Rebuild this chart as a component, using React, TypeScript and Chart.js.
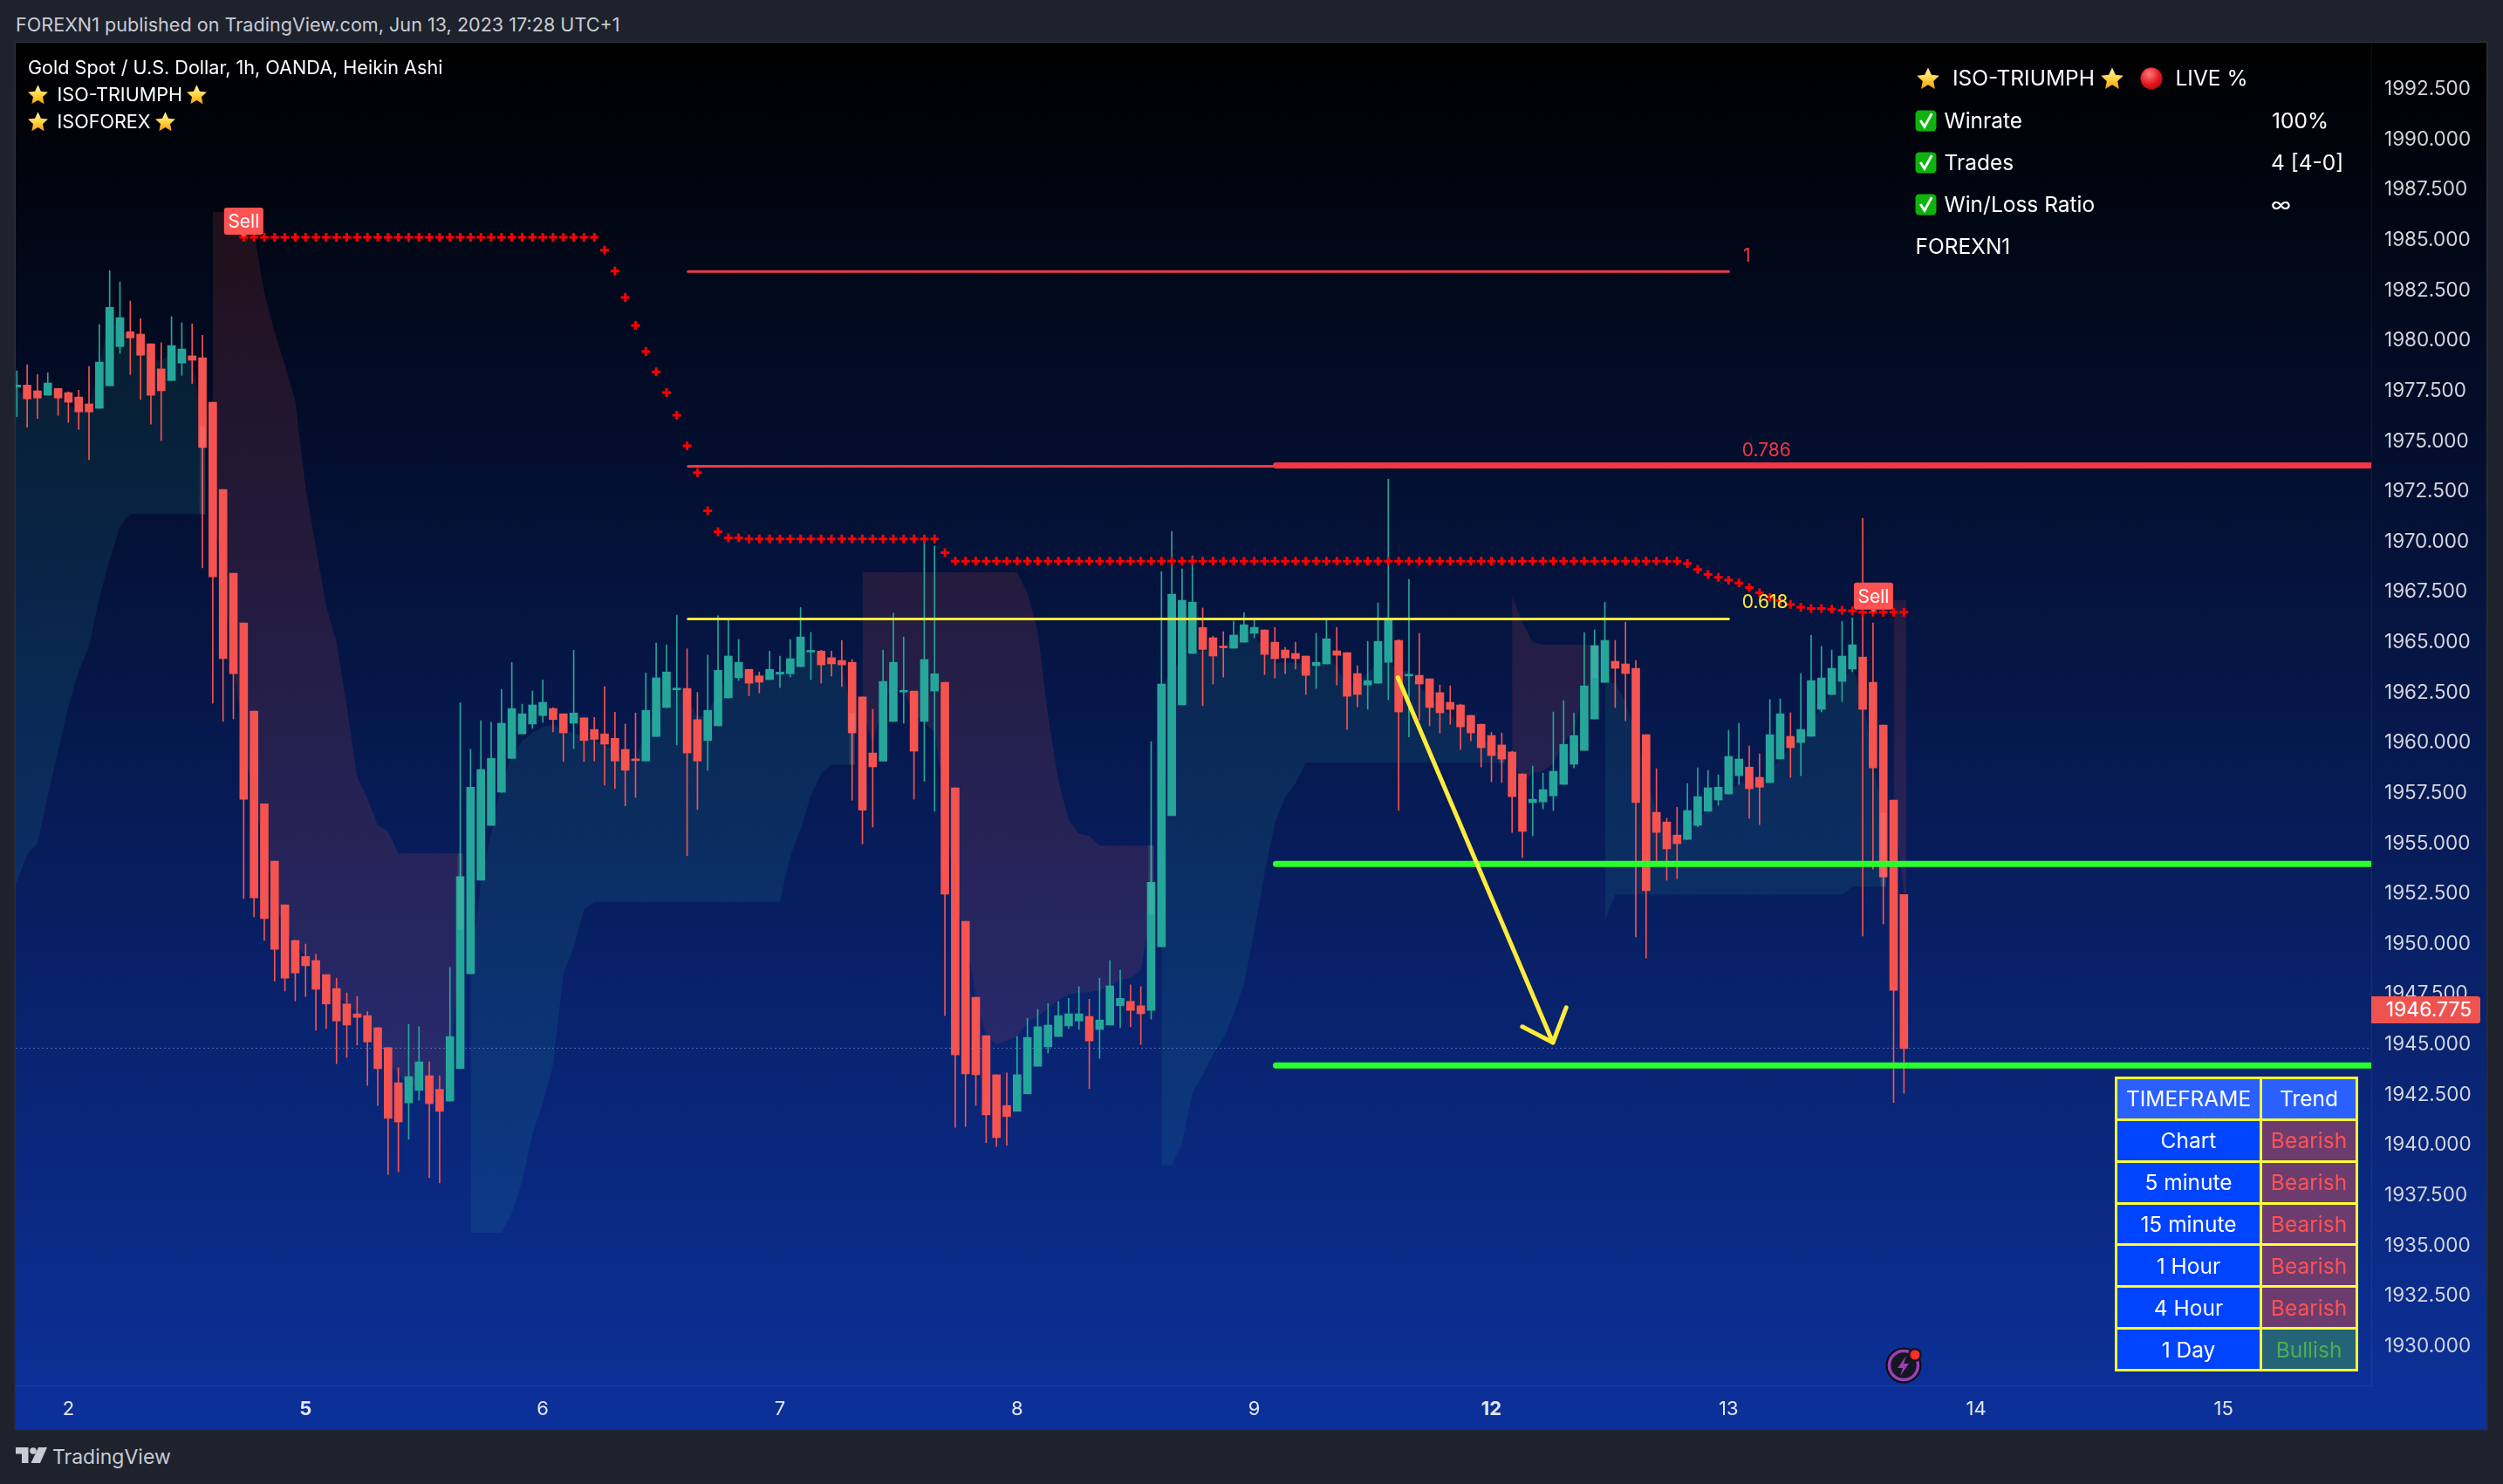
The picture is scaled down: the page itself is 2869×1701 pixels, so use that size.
import React, { useEffect, useRef } from "react";
import { Chart, registerables } from "chart.js";

Chart.register(...registerables);

// ---------- Price series (Heikin Ashi, one value per hourly bar) ----------
const highs = [
  1978.50,1978.81,1978.32,1978.41,1977.63,1977.46,1977.54,1978.72,1980.80,1983.49,
  1982.92,1981.97,1981.10,1979.85,1979.90,1981.20,1980.89,1980.84,1980.27,1976.94,
  1972.60,1968.44,1965.96,1961.58,1956.97,1954.12,1951.95,1950.18,1950.00,1949.50,
  1948.48,1948.30,1947.57,1947.39,1946.64,1945.84,1944.85,1943.85,1946.00,1945.89,
  1944.14,1943.45,1948.83,1962.00,1959.68,1961.11,1961.03,1962.66,1964.00,1961.93,
  1962.58,1963.13,1961.76,1961.45,1964.61,1961.25,1961.27,1962.80,1961.53,1960.94,
  1961.49,1963.48,1964.97,1964.88,1966.36,1964.68,1962.51,1964.37,1966.32,1966.12,
  1965.14,1963.66,1963.53,1964.57,1964.32,1965.14,1966.74,1965.50,1964.61,1964.57,
  1965.10,1964.15,1962.29,1961.67,1964.61,1966.45,1965.27,1962.58,1970.20,1969.79,
  1963.02,1957.77,1951.13,1947.35,1945.44,1943.50,1943.59,1945.40,1946.31,1946.75,
  1947.04,1947.15,1947.30,1947.88,1947.26,1948.30,1949.18,1948.70,1947.97,1947.88,
  1960.07,1968.53,1970.52,1968.66,1969.30,1966.71,1965.31,1965.53,1966.05,1966.49,
  1966.10,1965.62,1965.75,1964.75,1965.01,1964.32,1965.45,1966.10,1965.75,1964.49,
  1963.84,1965.05,1966.96,1973.12,1965.14,1968.13,1965.45,1963.19,1962.88,1962.84,
  1961.93,1961.37,1960.93,1960.53,1960.50,1959.59,1958.46,1958.85,1958.50,1961.54,
  1962.10,1961.50,1965.49,1965.62,1967.00,1965.10,1966.00,1964.10,1960.41,1958.72,
  1956.25,1956.81,1957.98,1958.76,1958.63,1958.41,1960.63,1960.98,1959.85,1959.46,
  1962.15,1962.19,1961.50,1963.45,1965.36,1964.80,1964.62,1966.05,1966.22,1971.17,
  1965.97,1960.89,1957.16,1952.46,
];
const lows = [
  1976.22,1975.70,1976.13,1977.29,1976.29,1975.94,1975.59,1974.09,1976.64,1977.76,
  1979.37,1978.33,1977.08,1975.85,1975.03,1978.02,1978.28,1977.88,1968.71,1961.98,
  1961.07,1961.20,1952.26,1951.35,1950.18,1948.15,1947.66,1947.17,1947.39,1945.71,
  1945.80,1944.05,1944.36,1944.98,1942.97,1941.97,1938.54,1938.67,1940.29,1942.23,
  1938.38,1938.12,1942.19,1943.80,1948.52,1953.17,1955.90,1957.55,1959.23,1960.45,
  1960.72,1961.03,1960.55,1959.08,1959.72,1959.08,1959.10,1957.90,1957.73,1956.87,
  1957.29,1959.10,1960.32,1961.76,1959.90,1954.39,1956.69,1958.64,1960.85,1962.24,
  1963.10,1962.35,1962.49,1963.15,1962.75,1963.28,1963.79,1963.15,1962.97,1963.33,
  1962.80,1957.15,1954.98,1955.82,1959.10,1961.07,1960.98,1957.20,1958.10,1956.60,
  1946.44,1940.88,1940.93,1941.97,1940.12,1939.93,1939.98,1941.68,1942.55,1943.92,
  1944.58,1945.40,1945.80,1945.75,1942.81,1944.32,1945.97,1945.84,1945.89,1945.00,
  1946.26,1949.87,1956.38,1961.89,1964.45,1961.85,1962.93,1963.27,1964.71,1965.01,
  1965.23,1963.40,1963.23,1963.45,1963.67,1962.41,1962.71,1963.93,1962.88,1960.67,
  1961.80,1961.67,1962.97,1962.15,1956.64,1960.30,1961.14,1960.85,1960.50,1960.93,
  1959.67,1960.10,1958.80,1958.07,1958.03,1955.55,1954.30,1955.38,1956.72,1956.64,
  1957.94,1958.76,1959.63,1961.19,1963.01,1961.76,1961.10,1950.35,1949.30,1954.00,
  1953.17,1953.25,1955.20,1955.83,1956.60,1956.90,1957.46,1957.94,1956.25,1955.94,
  1958.03,1959.20,1958.29,1958.37,1960.33,1961.54,1962.41,1962.06,1963.54,1950.40,
  1953.73,1951.00,1942.12,1942.58,
];
const opens = [
  1977.70,1977.80,1977.51,1977.29,1977.63,1977.42,1977.20,1976.86,1976.64,1977.76,
  1979.71,1980.45,1980.33,1979.85,1978.60,1978.02,1978.89,1979.25,1979.15,1976.94,
  1972.60,1968.44,1965.96,1961.58,1956.97,1954.12,1951.95,1950.18,1949.38,1949.18,
  1948.48,1947.79,1947.02,1946.53,1946.44,1945.84,1944.85,1943.10,1942.10,1942.72,
  1943.45,1942.77,1942.19,1943.80,1948.52,1953.17,1955.90,1957.55,1959.23,1960.45,
  1960.94,1961.36,1961.71,1961.45,1960.98,1961.25,1960.67,1960.45,1960.23,1959.68,
  1959.20,1959.10,1960.32,1961.76,1962.64,1962.71,1961.16,1960.12,1960.85,1962.24,
  1963.24,1963.66,1963.33,1963.15,1963.42,1963.44,1963.79,1964.52,1964.57,1964.24,
  1964.10,1964.01,1962.29,1959.50,1959.10,1961.07,1962.53,1962.58,1961.07,1962.58,
  1963.02,1957.77,1951.13,1947.35,1945.44,1943.50,1941.97,1941.68,1942.55,1943.92,
  1944.89,1945.40,1945.93,1946.17,1946.40,1945.75,1945.97,1946.93,1947.15,1946.93,
  1946.70,1949.87,1956.38,1961.89,1964.45,1965.74,1965.23,1964.77,1964.71,1965.01,
  1965.45,1965.62,1965.01,1964.62,1964.45,1964.32,1963.84,1963.93,1964.58,1964.49,
  1963.45,1962.88,1962.97,1964.01,1965.10,1963.33,1963.36,1963.19,1962.50,1962.02,
  1961.89,1961.37,1960.93,1960.37,1959.90,1959.55,1958.46,1957.03,1957.07,1957.37,
  1957.94,1958.94,1959.63,1961.19,1963.01,1964.06,1963.93,1963.71,1960.41,1956.55,
  1956.07,1955.42,1955.20,1955.90,1956.60,1957.16,1957.46,1958.37,1958.80,1958.29,
  1958.03,1959.20,1960.33,1960.02,1960.33,1961.67,1962.41,1963.06,1963.67,1964.27,
  1963.02,1960.89,1957.16,1952.46,
];
const closes = [
  1977.80,1977.11,1977.15,1977.90,1977.15,1976.94,1976.46,1976.46,1978.94,1981.66,
  1981.15,1980.14,1979.28,1977.29,1977.51,1979.76,1979.59,1979.03,1974.69,1968.26,
  1964.19,1963.44,1957.20,1952.30,1951.26,1949.74,1948.30,1948.56,1948.92,1947.75,
  1947.02,1946.17,1945.97,1946.35,1945.13,1943.80,1941.33,1941.15,1943.41,1944.14,
  1942.06,1941.68,1945.40,1953.35,1957.80,1958.68,1959.23,1960.98,1961.71,1961.45,
  1961.89,1962.02,1961.16,1960.50,1961.49,1960.12,1960.18,1959.94,1959.10,1958.64,
  1959.12,1961.62,1963.24,1963.53,1962.72,1959.50,1959.10,1961.62,1963.61,1964.32,
  1964.01,1962.97,1963.02,1963.66,1963.52,1964.19,1965.27,1964.58,1963.88,1963.93,
  1963.88,1960.50,1956.65,1958.81,1963.06,1964.01,1962.57,1959.59,1964.15,1963.44,
  1952.48,1944.49,1943.54,1943.50,1941.50,1940.37,1941.42,1943.50,1945.35,1945.89,
  1945.97,1946.44,1946.53,1946.53,1945.18,1946.22,1947.92,1947.30,1946.70,1946.53,
  1953.07,1962.93,1967.40,1967.09,1967.00,1964.65,1964.32,1964.73,1965.36,1965.88,
  1965.75,1964.40,1964.19,1964.23,1964.19,1963.36,1964.01,1965.18,1964.36,1962.32,
  1962.41,1963.10,1965.05,1966.10,1961.54,1963.38,1962.93,1961.76,1961.50,1961.67,
  1960.80,1960.50,1959.76,1959.37,1959.20,1957.33,1955.60,1957.20,1957.68,1958.59,
  1959.93,1960.37,1962.84,1964.84,1965.10,1963.71,1963.45,1957.03,1952.65,1955.55,
  1954.73,1954.99,1956.64,1957.33,1957.77,1957.80,1959.33,1959.20,1957.72,1957.80,
  1960.41,1961.45,1959.76,1960.67,1963.10,1963.23,1963.71,1964.32,1964.88,1961.67,
  1958.76,1953.34,1947.70,1944.80,
];

// Trailing stop, red crosses, starting at bar 22
const stopStart = 22;
const stopValues = [
  1985.15,1985.15,1985.15,1985.15,1985.15,1985.15,1985.15,1985.15,1985.15,1985.15,
  1985.15,1985.15,1985.15,1985.15,1985.15,1985.15,1985.15,1985.15,1985.15,1985.15,
  1985.15,1985.15,1985.15,1985.15,1985.15,1985.15,1985.15,1985.15,1985.15,1985.15,
  1985.15,1985.15,1985.15,1985.15,1985.15,
  1984.51,1983.46,1982.15,1980.76,1979.46,1978.45,1977.42,1976.29,1974.78,1973.44,
  1971.54,1970.50,1970.20,1970.20,
  1970.15,1970.15,1970.15,1970.15,1970.15,1970.15,1970.15,1970.15,1970.15,1970.15,
  1970.15,1970.15,1970.15,1970.15,1970.15,1970.15,1970.15,1970.15,1970.15,
  1969.46,
  1969.04,1969.04,1969.04,1969.04,1969.04,1969.04,1969.04,1969.04,1969.04,1969.04,
  1969.04,1969.04,1969.04,1969.04,1969.04,1969.04,1969.04,1969.04,1969.04,1969.04,
  1969.04,1969.04,1969.04,1969.04,1969.04,1969.04,1969.04,1969.04,1969.04,1969.04,
  1969.04,1969.04,1969.04,1969.04,1969.04,1969.04,1969.04,1969.04,1969.04,1969.04,
  1969.04,1969.04,1969.04,1969.04,1969.04,1969.04,1969.04,1969.04,1969.04,1969.04,
  1969.04,1969.04,1969.04,1969.04,1969.04,1969.04,1969.04,1969.04,1969.04,1969.04,
  1969.04,1969.04,1969.04,1969.04,1969.04,1969.04,1969.04,1969.04,1969.04,1969.04,
  1969.04,
  1968.92,1968.63,1968.38,1968.24,1968.09,1967.95,1967.73,1967.47,1967.24,1967.08,
  1966.89,1966.75,1966.69,1966.69,1966.65,1966.60,1966.57,1966.50,1966.50,1966.50,
  1966.50,1966.50,
];

// Cloud regions: first bar, upper and lower edges
const greenAStart = 0;
const greenAUpper = [1977.6,1977.2,1977.1,1977.3,1977.2,1976.8,1976.5,1976.6,1978.9,1981.0,1980.5,1980.3,1979.8,1979.1,1979.0,1979.4,1979.4,1979.2,1975.7];
const greenALower = [1953.06,1954.45,1955.0,1957.37,1959.59,1961.8,1963.57,1964.79,1967.22,1969.1,1970.76,1971.38,1971.38,1971.38,1971.38,1971.38,1971.38,1971.38,1971.38];

const redBStart = 19;
const redBUpper = [1986.4,1986.4,1986.4,1986.4,1985.3,1982.4,1980.4,1978.8,1977.0,1972.7,1969.7,1966.8,1965.0,1961.8,1958.3,1957.26,1955.9,1955.6,1954.5,1954.5,1954.5,1954.5,1954.5,1954.5,1954.5];
const redBLower = [1972.0,1968.0,1964.0,1960.0,1957.0,1955.0,1952.0,1950.8,1950.0,1949.4,1948.8,1948.2,1947.5,1947.0,1946.6,1946.0,1945.2,1944.2,1943.5,1943.0,1942.8,1942.6,1942.5,1943.0,1950.73];

const greenCStart = 44;
const greenCUpper = [1949.0,1953.0,1955.5,1958.0,1959.3,1960.1,1960.5,1960.8,1960.9,1960.6,1960.5,1960.3,1960.2,1959.9,1959.6,1959.2,1959.2,1960.6,1961.9,1962.7,1962.8,1962.2,1961.3,1961.4,1962.6,1963.2,1963.5,1963.5,1963.4,1963.4,1963.5,1963.8,1964.7,1964.6,1964.3,1964.1,1963.9,1961.5];
const greenCLower = [1935.64,1935.64,1935.64,1935.64,1936.6,1938.2,1940.55,1942.1,1943.98,1948.52,1949.85,1951.73,1952.1,1952.1,1952.1,1952.1,1952.1,1952.1,1952.1,1952.1,1952.1,1952.1,1952.1,1952.1,1952.1,1952.1,1952.1,1952.1,1952.1,1952.1,1952.1,1954.39,1955.7,1957.37,1958.48,1958.92,1958.92,1958.92];

const redDStart = 82;
const redDUpper = [1968.49,1968.49,1968.49,1968.49,1968.49,1968.49,1968.49,1968.49,1968.49,1968.49,1968.49,1968.49,1968.49,1968.49,1968.49,1968.49,1967.45,1965.56,1961.36,1958.15,1956.16,1955.49,1955.38,1954.9,1954.9,1954.9,1954.9,1954.9,1954.9];
const redDLower = [1961.58,1960.03,1961.9,1962.9,1962.5,1961.5,1961.0,1960.58,1957.0,1951.95,1950.5,1947.4,1945.4,1945.0,1945.2,1945.4,1946.1,1946.4,1946.8,1947.2,1947.5,1947.6,1947.6,1947.7,1947.9,1948.2,1948.3,1948.7,1951.6];

const greenEStart = 111;
const greenEUpper = [1962.9,1963.5,1964.2,1964.5,1964.6,1964.6,1964.8,1965.3,1965.9,1965.3,1964.7,1964.0,1964.0,1964.0,1963.9,1963.7,1964.2,1963.8,1962.7,1963.0,1963.5,1964.0,1964.1,1963.5,1963.6,1962.8,1962.2,1961.8,1961.4,1960.9,1960.6,1960.2,1959.9,1959.2];
const greenELower = [1939.0,1939.0,1940.1,1942.6,1943.5,1944.5,1945.3,1946.5,1948.0,1950.6,1953.5,1956.0,1957.3,1958.0,1959.02,1959.02,1959.02,1959.02,1959.02,1959.02,1959.02,1959.02,1959.02,1959.02,1959.02,1959.02,1959.02,1959.02,1959.02,1959.02,1959.02,1959.02,1959.02,1959.02];

const redFStart = 145;
const redFUpper = [1967.3,1966.0,1965.0,1964.9,1964.9,1964.9,1964.9,1964.9,1964.9];
const redFLower = [1959.5,1958.0,1958.5,1958.6,1959.0,1960.0,1960.6,1962.5,1963.2];

const greenGStart = 154;
const greenGUpper = [1963.0,1963.0,1962.0,1960.5,1958.5,1956.5,1955.5,1955.2,1955.8,1956.3,1956.6,1957.0,1957.6,1958.0,1958.0,1958.0,1958.4,1959.3,1959.8,1960.3,1961.0,1961.8,1962.6,1963.2,1963.7,1962.5,1958.9,1956.52];
const greenGLower = [1951.2,1952.47,1952.47,1952.47,1952.47,1952.47,1952.47,1952.47,1952.47,1952.47,1952.47,1952.47,1952.47,1952.47,1952.47,1952.47,1952.47,1952.47,1952.47,1952.47,1952.47,1952.47,1952.47,1952.47,1952.86,1952.86,1952.86,1952.86];

const redHStart = 182;
const redHUpper = [1967.1,1967.1];
const redHLower = [1957.0,1952.5];

// Pale strips where one cloud hands over to the next
const handoverBars = [18, 43, 81, 110, 144, 153, 181];
const handoverHighs = [1975.7, 1954.5, 1961.47, 1954.9, 1959.2, 1964.84, 1956.52];
const handoverLows = [1971.38, 1950.73, 1958.93, 1951.5, 1959.02, 1963.25, 1952.86];

// Drawn levels
const fib1 = { from: 65.1, to: 166.0, price: 1983.44 };
const fib786 = { from: 65.1, to: 166.0, price: 1973.76 };
const fib786Long = { from: 122.1, price: 1973.8 };
const fib618 = { from: 65.1, to: 166.0, price: 1966.16 };
const greenLevelPrices = [1953.98, 1943.96];
const greenLevelFrom = 122.1;
const lastClose = 1944.82;

const arrowBarX = [133.93, 148.96];
const arrowPrices = [1963.25, 1945.1];
const arrowHeadBarX = [145.99, 148.96, 150.25];
const arrowHeadPrices = [1945.89, 1945.1, 1946.84];

const sellBars = [22, 180.05];
const sellPrices = [1985.15, 1966.5];

const fibLabels = ["1", "0.786", "0.618"];
const fibLabelBars = [167.4, 167.3, 167.3];
const fibLabelPrices = [1984.22, 1974.55, 1966.96];
const fibLabelColors = ["#f23645", "#f23645", "#ffeb3b"];

// Axes
const xMin = -0.11;
const xMax = 228.32;
const yMin = 1928.05;
const yMax = 1994.82;
const priceTicks = [1930,1932.5,1935,1937.5,1940,1942.5,1945,1947.5,1950,1952.5,1955,1957.5,1960,1962.5,1965,1967.5,1970,1972.5,1975,1977.5,1980,1982.5,1985,1987.5,1990,1992.5];
const dayTickBars = [5, 28, 51, 74, 97, 120, 143, 166, 190, 214];
const dayTickLabels = ["2", "5", "6", "7", "8", "9", "12", "13", "14", "15"];
const boldDayLabels = ["5", "12"];

// Table
const tfRows = ["Chart", "5 minute", "15 minute", "1 Hour", "4 Hour", "1 Day"];
const tfTrends = ["Bearish", "Bearish", "Bearish", "Bearish", "Bearish", "Bullish"];

const UP = "#26a69a";
const DOWN = "#f45350";
const FONT = "Inter, 'Noto Sans', sans-serif";

function region(start: number, upper: number[], lower: number[], color: string, base: number) {
  const up = upper.map((y, i) => ({ x: start + i, y }));
  const lo = lower.map((y, i) => ({ x: start + i, y }));
  const lastX = start + upper.length - 1 + 0.25;
  up.push({ x: lastX, y: upper[upper.length - 1] });
  lo.push({ x: lastX, y: lower[lower.length - 1] });
  if (start === 0) {
    up.unshift({ x: xMin, y: upper[0] });
    lo.unshift({ x: xMin, y: lower[0] });
  }
  return [
    { type: "line", data: up, borderWidth: 0, pointRadius: 0, tension: 0, order: 20, backgroundColor: color, fill: { target: base + 1 } },
    { type: "line", data: lo, borderWidth: 0, pointRadius: 0, tension: 0, order: 20, fill: false },
  ];
}

function hLine(from: number, to: number, price: number, color: string, width: number, order = 2, extra: any = {}) {
  return {
    type: "line",
    data: [{ x: from, y: price }, { x: to, y: price }],
    borderColor: color,
    borderWidth: width,
    pointRadius: 0,
    order,
    borderCapStyle: "round",
    ...extra,
  };
}

const chartOverlay = {
  id: "chartOverlay",
  afterDatasetsDraw(chart: any) {
    const { ctx, scales } = chart;
    const X = scales.x, Y = scales.y;
    ctx.save();
    ctx.textAlign = "left";
    ctx.textBaseline = "middle";
    ctx.font = `21px ${FONT}`;
    fibLabels.forEach((t, i) => {
      ctx.fillStyle = fibLabelColors[i];
      ctx.fillText(t, X.getPixelForValue(fibLabelBars[i]), Y.getPixelForValue(fibLabelPrices[i]));
    });
    sellBars.forEach((b, i) => {
      const cx = X.getPixelForValue(b);
      const py = Y.getPixelForValue(sellPrices[i]);
      const w = 45, h = 31;
      const bottom = py - 3;
      ctx.fillStyle = "#ff5252";
      ctx.beginPath();
      ctx.roundRect(cx - w / 2, bottom - h, w, h, 3);
      ctx.fill();
      ctx.beginPath();
      ctx.moveTo(cx - 4, bottom);
      ctx.lineTo(cx + 4, bottom);
      ctx.lineTo(cx, bottom + 3);
      ctx.closePath();
      ctx.fill();
      ctx.fillStyle = "#ffffff";
      ctx.font = `21px ${FONT}`;
      ctx.textAlign = "center";
      ctx.fillText("Sell", cx, bottom - h / 2 + 1);
    });
    ctx.restore();
  },
};

function Star({ x, y, s = 25 }: { x: number; y: number; s?: number }) {
  const id = `sg${Math.round(x)}${Math.round(y)}`;
  return (
    <svg width={s} height={s} viewBox="0 0 24 24" style={{ position: "absolute", left: x - s / 2, top: y - s / 2 }}>
      <defs>
        <linearGradient id={id} x1="0" y1="0" x2="0" y2="1">
          <stop offset="0" stopColor="#fff6b0" />
          <stop offset="0.55" stopColor="#ffd23f" />
          <stop offset="1" stopColor="#f59a12" />
        </linearGradient>
      </defs>
      <path d="M12 1.2l3.3 7.1 7.7.9-5.7 5.3 1.5 7.7L12 18.3l-6.8 3.9 1.5-7.7L1 9.2l7.7-.9z" fill={`url(#${id})`} />
    </svg>
  );
}

function Check({ x, y }: { x: number; y: number }) {
  return (
    <svg width={25} height={25} viewBox="0 0 24 24" style={{ position: "absolute", left: x - 12.5, top: y - 12.5 }}>
      <rect x="0.5" y="0.5" width="23" height="23" rx="4" fill="#0fb30f" />
      <path d="M6 11.5l4.5 7L18.5 4" fill="none" stroke="#fff" strokeWidth="2.8" />
    </svg>
  );
}

function T({ x, y, size = 23, color = "#ffffff", children, weight = 400 }: any) {
  return (
    <div
      style={{
        position: "absolute",
        left: x,
        top: y,
        transform: "translateY(-50%)",
        fontFamily: FONT,
        fontSize: size,
        color,
        fontWeight: weight,
        whiteSpace: "nowrap",
        lineHeight: 1.2,
      }}
    >
      {children}
    </div>
  );
}

const noPadding = (s: any) => {
  s.paddingLeft = 0;
  s.paddingRight = 0;
  s.paddingTop = 0;
  s.paddingBottom = 0;
};

export default function App() {
  const ref = useRef<HTMLCanvasElement | null>(null);

  useEffect(() => {
    if (!ref.current) return;
    const bars = closes.map((_, i) => i);
    const colors = closes.map((c, i) => (c >= opens[i] ? UP : DOWN));
    const datasets: any[] = [];
    const addRegion = (s: number, u: number[], l: number[], c: string) => {
      datasets.push(...region(s, u, l, c, datasets.length));
    };
    const GREEN_FILL = "rgba(38,166,154,0.13)";
    const RED_FILL = "rgba(244,83,80,0.13)";
    addRegion(greenAStart, greenAUpper, greenALower, GREEN_FILL);
    addRegion(redBStart, redBUpper, redBLower, RED_FILL);
    addRegion(greenCStart, greenCUpper, greenCLower, GREEN_FILL);
    addRegion(redDStart, redDUpper, redDLower, RED_FILL);
    addRegion(greenEStart, greenEUpper, greenELower, GREEN_FILL);
    addRegion(redFStart, redFUpper, redFLower, RED_FILL);
    addRegion(greenGStart, greenGUpper, greenGLower, GREEN_FILL);
    addRegion(redHStart, redHUpper, redHLower, RED_FILL);

    datasets.push({
      type: "line",
      data: [{ x: xMin, y: lastClose }, { x: xMax, y: lastClose }],
      borderColor: "rgba(130,165,235,0.55)",
      borderWidth: 1,
      borderDash: [2, 3],
      pointRadius: 0,
      order: 15,
    });
    datasets.push({
      type: "bar",
      data: bars.map((i) => ({ x: i, y: [lows[i], highs[i]] })),
      backgroundColor: colors,
      barThickness: 1,
      order: 8,
    });
    datasets.push({
      type: "bar",
      data: bars.map((i) => ({ x: i, y: [closes[i], opens[i]] })),
      backgroundColor: colors,
      barThickness: 9,
      minBarLength: 2,
      order: 7,
    });
    datasets.push({
      type: "bar",
      data: handoverBars.map((b, i) => ({ x: b, y: [handoverLows[i], handoverHighs[i]] })),
      backgroundColor: "rgba(255,255,255,0.09)",
      barThickness: 6,
      order: 6,
    });
    datasets.push(hLine(fib1.from, fib1.to, fib1.price, "#f23645", 3));
    datasets.push(hLine(fib786.from, fib786.to, fib786.price, "#f23645", 3));
    datasets.push(hLine(fib786Long.from, xMax, fib786Long.price, "#f23645", 7));
    datasets.push(hLine(fib618.from, fib618.to, fib618.price, "#ffeb3b", 3));
    greenLevelPrices.forEach((p) => datasets.push(hLine(greenLevelFrom, xMax, p, "#2bff2b", 7)));
    datasets.push({
      type: "line",
      data: stopValues.map((y, i) => ({ x: stopStart + i, y })),
      showLine: false,
      pointStyle: "cross",
      pointRadius: 5,
      pointBorderWidth: 3,
      pointBorderColor: "#ff0000",
      order: 3,
    });
    datasets.push({
      type: "line",
      data: arrowBarX.map((x, i) => ({ x, y: arrowPrices[i] })),
      borderColor: "#ffeb3b",
      borderWidth: 5,
      pointRadius: 0,
      borderCapStyle: "round",
      order: 1,
    });
    datasets.push({
      type: "line",
      data: arrowHeadBarX.map((x, i) => ({ x, y: arrowHeadPrices[i] })),
      borderColor: "#ffeb3b",
      borderWidth: 5,
      pointRadius: 0,
      borderCapStyle: "round",
      borderJoinStyle: "round",
      order: 1,
    });

    const chart = new Chart(ref.current, {
      type: "bar",
      data: { datasets },
      plugins: [chartOverlay],
      options: {
        animation: false,
        responsive: false,
        devicePixelRatio: 1,
        layout: { padding: 0, autoPadding: false },
        plugins: { legend: { display: false }, tooltip: { enabled: false } },
        datasets: { bar: { grouped: false } },
        scales: {
          x: {
            type: "linear",
            min: xMin,
            max: xMax,
            offset: false,
            grid: { display: false, drawTicks: false },
            border: { display: true, color: "rgba(255,255,255,0.06)" },
            afterFit: (s: any) => { s.height = 50; noPadding(s); },
            afterBuildTicks: (s: any) => { s.ticks = dayTickBars.map((value) => ({ value })); },
            ticks: {
              autoSkip: false,
              maxRotation: 0,
              padding: 14,
              color: "#e4e6ec",
              font: (c: any) => {
                const idx = dayTickBars.indexOf(c.tick?.value);
                const bold = boldDayLabels.includes(dayTickLabels[idx]);
                return { family: FONT, size: 22, weight: bold ? "700" : "400" };
              },
              callback: (v: any) => dayTickLabels[dayTickBars.indexOf(v)] ?? "",
            },
          },
          y: {
            type: "linear",
            position: "right",
            min: yMin,
            max: yMax,
            grid: { display: false, drawTicks: false },
            border: { display: true, color: "rgba(255,255,255,0.06)" },
            afterFit: (s: any) => { s.width = 132; noPadding(s); },
            afterBuildTicks: (s: any) => { s.ticks = priceTicks.map((value) => ({ value })); },
            ticks: {
              padding: 15,
              color: "#d4d6dd",
              font: { family: FONT, size: 22.5 },
              callback: (v: any) => Number(v).toFixed(3),
            },
          },
        },
      } as any,
    } as any);
    return () => chart.destroy();
  }, []);

  const cell: React.CSSProperties = {
    border: "3px solid #ffff33",
    padding: 0,
    height: 43,
    textAlign: "center",
    fontFamily: FONT,
    fontSize: 24.5,
    color: "#fff",
    boxSizing: "border-box",
  };

  return (
    <div style={{ position: "fixed", left: 0, top: 0, width: 2869, height: 1701, background: "#1e222d", overflow: "hidden" }}>
      <T x={18} y={29} size={21.6} color="#c8cbd3">FOREXN1 published on TradingView.com, Jun 13, 2023 17:28 UTC+1</T>

      <div
        style={{
          position: "absolute",
          left: 18,
          top: 49,
          width: 2832,
          height: 1589,
          background: "linear-gradient(180deg,#000000 0%,#0c319b 100%)",
          boxShadow: "0 0 0 1.5px #2a2e39",
        }}
      >
        <canvas ref={ref} width={2832} height={1589} style={{ display: "block", width: 2832, height: 1589 }} />
      </div>

      {/* Pane legend, top left */}
      <T x={32} y={77.5} size={21.6}>Gold Spot / U.S. Dollar, 1h, OANDA, Heikin Ashi</T>
      <Star x={43.5} y={108.5} />
      <T x={65.5} y={108.5} size={21.6}>ISO-TRIUMPH</T>
      <Star x={225} y={108.5} />
      <Star x={43.5} y={139} />
      <T x={65.5} y={139.5} size={21.6}>ISOFOREX</T>
      <Star x={189} y={139} />

      {/* Stats table, top right */}
      <Star x={2210} y={90} s={28} />
      <T x={2238} y={90} size={24.5}>ISO-TRIUMPH</T>
      <Star x={2421} y={90} s={28} />
      <svg width={26} height={26} style={{ position: "absolute", left: 2453, top: 77 }}>
        <defs>
          <radialGradient id="live" cx="0.4" cy="0.3" r="0.8">
            <stop offset="0" stopColor="#ff7a7a" />
            <stop offset="0.6" stopColor="#e5141e" />
            <stop offset="1" stopColor="#a50d12" />
          </radialGradient>
        </defs>
        <circle cx="13" cy="13" r="12.5" fill="url(#live)" />
      </svg>
      <T x={2493.5} y={90} size={24.5}>LIVE %</T>
      <Check x={2207} y={138} />
      <T x={2228.5} y={139} size={24.5}>Winrate</T>
      <T x={2604} y={139} size={24.5}>100%</T>
      <Check x={2207} y={186} />
      <T x={2228.5} y={187} size={24.5}>Trades</T>
      <T x={2603} y={187} size={24.5}>4 [4-0]</T>
      <Check x={2207} y={234} />
      <T x={2228.5} y={235} size={24.5}>Win/Loss Ratio</T>
      <T x={2603} y={235} size={24.5}>∞</T>
      <T x={2195.5} y={283} size={24.5}>FOREXN1</T>

      {/* Last price */}
      <div
        style={{
          position: "absolute",
          left: 2718,
          top: 1142,
          width: 125,
          height: 31,
          background: "#ef5350",
          borderRadius: "0 3px 3px 0",
          color: "#fff",
          fontFamily: FONT,
          fontSize: 23,
          lineHeight: "31px",
          textAlign: "center",
          paddingLeft: 7,
          boxSizing: "border-box",
        }}
      >
        1946.775
      </div>

      {/* Timeframe table */}
      <table
        style={{
          position: "absolute",
          left: 2424,
          top: 1234,
          width: 276,
          height: 338,
          borderCollapse: "collapse",
          tableLayout: "fixed",
        }}
      >
        <colgroup>
          <col style={{ width: 166 }} />
          <col style={{ width: 110 }} />
        </colgroup>
        <tbody>
          <tr>
            <td style={{ ...cell, background: "#2a60ff" }}>TIMEFRAME</td>
            <td style={{ ...cell, background: "#2a60ff" }}>Trend</td>
          </tr>
          {tfRows.map((r, i) => {
            const bull = tfTrends[i] === "Bullish";
            return (
              <tr key={r}>
                <td style={{ ...cell, background: "#0044ff" }}>{r}</td>
                <td style={{ ...cell, background: bull ? "#256478" : "#6c3c6e", color: bull ? "#4caf50" : "#ff5252" }}>{tfTrends[i]}</td>
              </tr>
            );
          })}
        </tbody>
      </table>

      {/* Alert badge */}
      <svg width={48} height={48} viewBox="0 0 48 48" style={{ position: "absolute", left: 2158, top: 1541 }}>
        <circle cx="24" cy="24" r="19.5" fill="#131722" stroke="#0a0d14" strokeWidth="2" />
        <circle cx="24" cy="24" r="16.5" fill="none" stroke="#9c3fb5" strokeWidth="3.5" />
        <path d="M27 13L17 27h6l-3 9 10-14h-6z" fill="#9c3fb5" />
        <circle cx="37" cy="12" r="8" fill="#131722" />
        <circle cx="37" cy="12" r="5.5" fill="#ff2a2a" />
      </svg>

      {/* Footer */}
      <svg width={36} height={18} viewBox="0 0 36 18" style={{ position: "absolute", left: 18, top: 1659 }}>
        <path d="M0 0h14.5v18H7V7.5H0z" fill="#c8cbd3" />
        <circle cx="20" cy="4" r="3.8" fill="#c8cbd3" />
        <path d="M26 0h10l-8 18H17.5z" fill="#c8cbd3" />
      </svg>
      <T x={60} y={1671} size={23} color="#c8cbd3">TradingView</T>
    </div>
  );
}
